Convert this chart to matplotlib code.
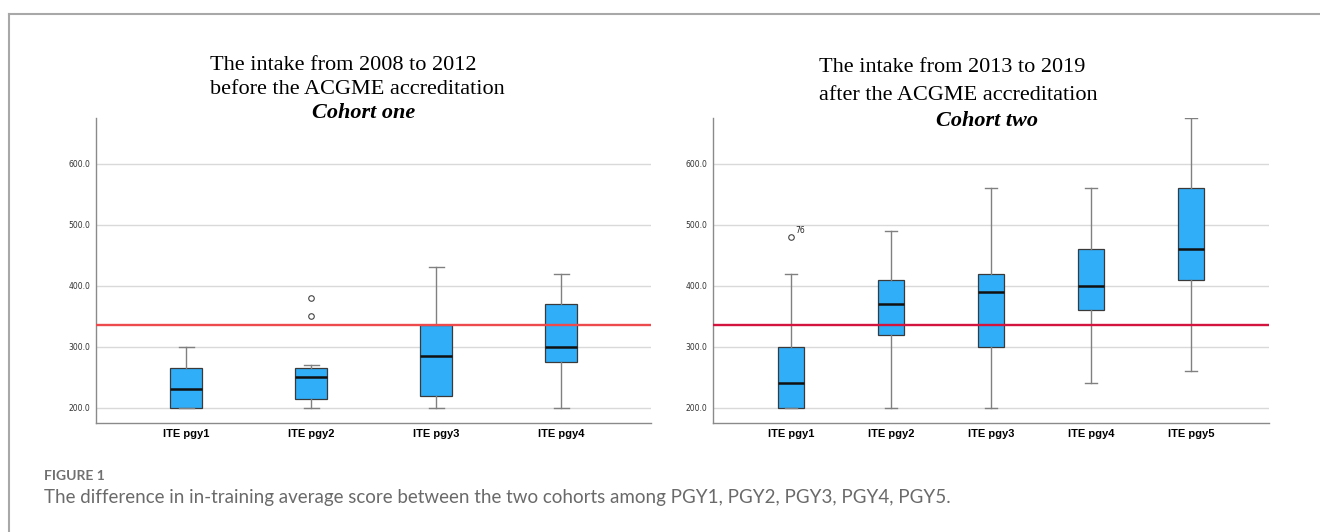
"""Boxplots of in-training exam scores for the two cohorts."""

import matplotlib

matplotlib.use("Agg")

import matplotlib.pyplot as plt

# cohort one (2008-2012)
labels_one = ["ITE pgy1", "ITE pgy2", "ITE pgy3", "ITE pgy4"]
whislo_one = [200, 200, 200, 200]
q1_one = [200, 215, 220, 275]
med_one = [230, 250, 285, 300]
q3_one = [265, 265, 335, 370]
whishi_one = [300, 270, 430, 420]
fliers_one = [[], [350, 380], [], []]

# cohort two (2013-2019)
labels_two = ["ITE pgy1", "ITE pgy2", "ITE pgy3", "ITE pgy4", "ITE pgy5"]
whislo_two = [200, 200, 200, 240, 260]
q1_two = [200, 320, 300, 360, 410]
med_two = [240, 370, 390, 400, 460]
q3_two = [300, 410, 420, 460, 560]
whishi_two = [420, 490, 560, 560, 675]
fliers_two = [[480], [], [], [], []]
flier_ids_two = [["76"], [], [], [], []]

reference_score = 335
yticks = [200, 300, 400, 500, 600]

BOX_BLUE = "#30aef8"
GRID = "#d9d9d9"
W, H = 1320, 532


def make_stats(labels, whislo, q1, med, q3, whishi, fliers):
    stats = []
    for i, label in enumerate(labels):
        stats.append({
            "label": label,
            "whislo": whislo[i],
            "q1": q1[i],
            "med": med[i],
            "q3": q3[i],
            "whishi": whishi[i],
            "fliers": fliers[i],
        })
    return stats


def draw_panel(ax, stats, line_color, xpad):
    positions = list(range(len(stats)))
    ax.bxp(
        stats,
        positions=positions,
        widths=0.26,
        patch_artist=True,
        showfliers=True,
        boxprops=dict(facecolor=BOX_BLUE, edgecolor="#3a3a3a", linewidth=0.9),
        medianprops=dict(color="#111111", linewidth=1.8),
        whiskerprops=dict(color="#808080", linewidth=1.0),
        capprops=dict(color="#808080", linewidth=1.0),
        capwidths=0.12,
        flierprops=dict(marker="o", markersize=4, markerfacecolor="white",
                        markeredgecolor="#444444", markeredgewidth=0.8),
        zorder=3,
    )
    ax.axhline(reference_score, color=line_color, linewidth=1.7, zorder=4)
    ax.set_xlim(-xpad, len(stats) - 1 + xpad)
    ax.set_ylim(175, 675)
    ax.set_yticks(yticks)
    ax.set_yticklabels([f"{t:.1f}" for t in yticks], fontsize=5.5, color="#333333")
    ax.set_xticks(positions)
    ax.set_xticklabels([s["label"] for s in stats], fontsize=8, fontweight="bold",
                       family=["Liberation Sans Narrow", "Liberation Sans"])
    ax.tick_params(axis="both", length=0, pad=4)
    ax.grid(axis="y", color=GRID, linewidth=1.0, zorder=0)
    ax.set_axisbelow(True)
    for side in ("top", "right"):
        ax.spines[side].set_visible(False)
    for side in ("left", "bottom"):
        ax.spines[side].set_color("#8a8a8a")
        ax.spines[side].set_linewidth(1.0)


fig = plt.figure(figsize=(W / 100, H / 100), dpi=100)

# outer panel frame
fig.add_artist(plt.Line2D([9 / W, 1.0], [1 - 14 / H, 1 - 14 / H],
                          color="#a8a8a8", linewidth=1.5))
fig.add_artist(plt.Line2D([9 / W, 9 / W], [0.0, 1 - 14 / H],
                          color="#a8a8a8", linewidth=1.5))

ax1 = fig.add_axes([96 / W, 1 - 423 / H, 555 / W, 305 / H])
ax2 = fig.add_axes([713 / W, 1 - 423 / H, 556 / W, 305 / H])

draw_panel(ax1, make_stats(labels_one, whislo_one, q1_one, med_one, q3_one,
                           whishi_one, fliers_one), "#ec4a4c", 0.72)
draw_panel(ax2, make_stats(labels_two, whislo_two, q1_two, med_two, q3_two,
                           whishi_two, fliers_two), "#d3143f", 0.78)

for i, (vals, ids) in enumerate(zip(fliers_two, flier_ids_two)):
    for v, tag in zip(vals, ids):
        ax2.annotate(tag, (i, v), xytext=(3, 3), textcoords="offset points",
                     fontsize=5.5, color="#222222")

serif = ["Liberation Serif", "DejaVu Serif"]
title_size = 16

# left titles
fig.text(210 / W, 1 - 65 / H, "The intake from 2008 to 2012", family=serif,
         fontsize=title_size, ha="left", va="center")
fig.text(210 / W, 1 - 89 / H, "before the ACGME accreditation", family=serif,
         fontsize=title_size, ha="left", va="center")
fig.text(364 / W, 1 - 113 / H, "Cohort one", family=serif, fontsize=title_size,
         fontweight="bold", fontstyle="italic", ha="center", va="center")

# right titles
fig.text(819 / W, 1 - 67 / H, "The intake from 2013 to 2019", family=serif,
         fontsize=title_size, ha="left", va="center")
fig.text(819 / W, 1 - 95 / H, "after the ACGME accreditation", family=serif,
         fontsize=title_size, ha="left", va="center")
fig.text(987 / W, 1 - 121 / H, "Cohort two", family=serif, fontsize=title_size,
         fontweight="bold", fontstyle="italic", ha="center", va="center")

# caption
fig.text(44 / W, 1 - 476 / H, "FIGURE 1", family=["Lato", "DejaVu Sans"],
         fontsize=10, fontweight="bold", color="#707070", ha="left", va="center")
fig.text(44 / W, 1 - 498 / H,
         "The difference in in-training average score between the two cohorts "
         "among PGY1, PGY2, PGY3, PGY4, PGY5.",
         family=["Lato", "DejaVu Sans"], fontsize=13.5, color="#6a6a6a",
         ha="left", va="center")

fig.savefig("out.png", dpi=100)
plt.close(fig)
